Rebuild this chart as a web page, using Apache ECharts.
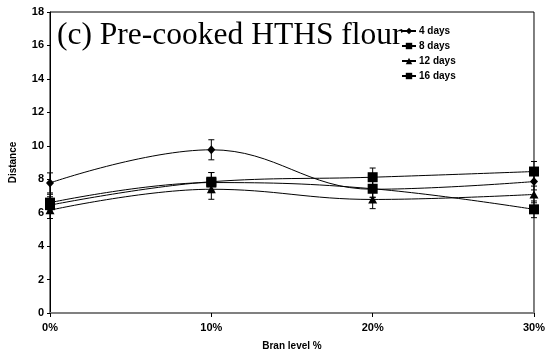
<!DOCTYPE html>
<html><head><meta charset="utf-8">
<script src="https://cdn.jsdelivr.net/npm/echarts@6/dist/echarts.min.js"></script>
<style>html,body{margin:0;padding:0;background:#fff}#c{width:548px;height:356px}</style>
</head><body><div id="c"></div>
<script>
const branLevels = [0, 10, 20, 30];
const seriesNames = ['4 days', '8 days', '12 days', '16 days'];
const days4 = [7.78, 9.76, 7.40, 7.86];
const days8 = [6.60, 7.80, 7.43, 6.20];
const days12 = [6.15, 7.40, 6.79, 7.09];
const days16 = [6.45, 7.85, 8.12, 8.46];
const err4 = [0.6, 0.6, 0.5, 0.5];
const err8 = [0.5, 0.6, 0.5, 0.5];
const err12 = [0.5, 0.6, 0.55, 0.5];
const err16 = [0.5, 0.55, 0.55, 0.6];
const yTicks = [0, 2, 4, 6, 8, 10, 12, 14, 16, 18];

const values = [days4, days8, days12, days16];
const errs = [err4, err8, err12, err16];
const symbols = ['diamond', 'rect', 'triangle', 'rect'];
const symSizes = [[8, 9], [10, 10], [9, 8], [10, 10]];

const chart = echarts.init(document.getElementById('c'));
const series = [];
values.forEach((vals, i) => {
  series.push({
    name: seriesNames[i], type: 'line', smooth: 0.4,
    data: branLevels.map((x, j) => [x, vals[j]]),
    symbol: symbols[i], symbolSize: symSizes[i],
    lineStyle: { color: '#000', width: 1 },
    itemStyle: { color: '#000' }, z: 3
  });
  series.push({
    type: 'custom', z: 2, silent: true,
    data: branLevels.map((x, j) => [x, vals[j] - errs[i][j], vals[j] + errs[i][j]]),
    renderItem: function (params, api) {
      const lo = api.coord([api.value(0), api.value(1)]);
      const hi = api.coord([api.value(0), api.value(2)]);
      const w = 3;
      const st = { stroke: '#000', lineWidth: 1 };
      return { type: 'group', children: [
        { type: 'line', shape: { x1: lo[0], y1: lo[1], x2: hi[0], y2: hi[1] }, style: st },
        { type: 'line', shape: { x1: lo[0] - w, y1: lo[1], x2: lo[0] + w, y2: lo[1] }, style: st },
        { type: 'line', shape: { x1: hi[0] - w, y1: hi[1], x2: hi[0] + w, y2: hi[1] }, style: st }
      ]};
    }
  });
});

chart.setOption({
  animation: false,
  grid: { left: 47, right: 9, top: 12, bottom: 41, show: true, borderColor: '#000', borderWidth: 1 },
  title: {
    text: '(c) Pre-cooked HTHS flour', left: 52, top: 15,
    textStyle: { fontFamily: 'Liberation Serif', fontSize: 31.5, fontWeight: 'normal', color: '#000' }
  },
  legend: {
    orient: 'vertical', left: 396, top: 21, itemGap: 5, itemWidth: 14, itemHeight: 8,
    data: seriesNames,
    textStyle: { fontFamily: 'Liberation Sans', fontSize: 10, fontWeight: 'bold', color: '#000', padding: [0, 0, 0, -2] }
  },
  xAxis: {
    type: 'value', min: 0, max: 30, interval: 10,
    name: 'Bran level %', nameLocation: 'middle', nameGap: 28,
    nameTextStyle: { fontFamily: 'Liberation Sans', fontSize: 10, fontWeight: 'bold', color: '#000' },
    axisLine: { lineStyle: { color: '#808080', width: 2 } },
    axisTick: { length: 4, lineStyle: { color: '#000' } },
    splitLine: { show: false },
    axisLabel: { formatter: '{value}%', fontFamily: 'Liberation Sans', fontSize: 11, fontWeight: 'bold', color: '#000', margin: 9 }
  },
  yAxis: {
    type: 'value', min: yTicks[0], max: yTicks[yTicks.length - 1], interval: 2,
    name: 'Distance', nameLocation: 'middle', nameGap: 32, nameRotate: 90,
    nameTextStyle: { fontFamily: 'Liberation Sans', fontSize: 10, fontWeight: 'bold', color: '#000' },
    axisLine: { show: true, lineStyle: { color: '#000', width: 1 } },
    axisTick: { show: true, length: 3, lineStyle: { color: '#000' } },
    splitLine: { show: false },
    axisLabel: { fontFamily: 'Liberation Sans', fontSize: 11, fontWeight: 'bold', color: '#000', margin: 6 }
  },
  series: series
});
</script></body></html>
